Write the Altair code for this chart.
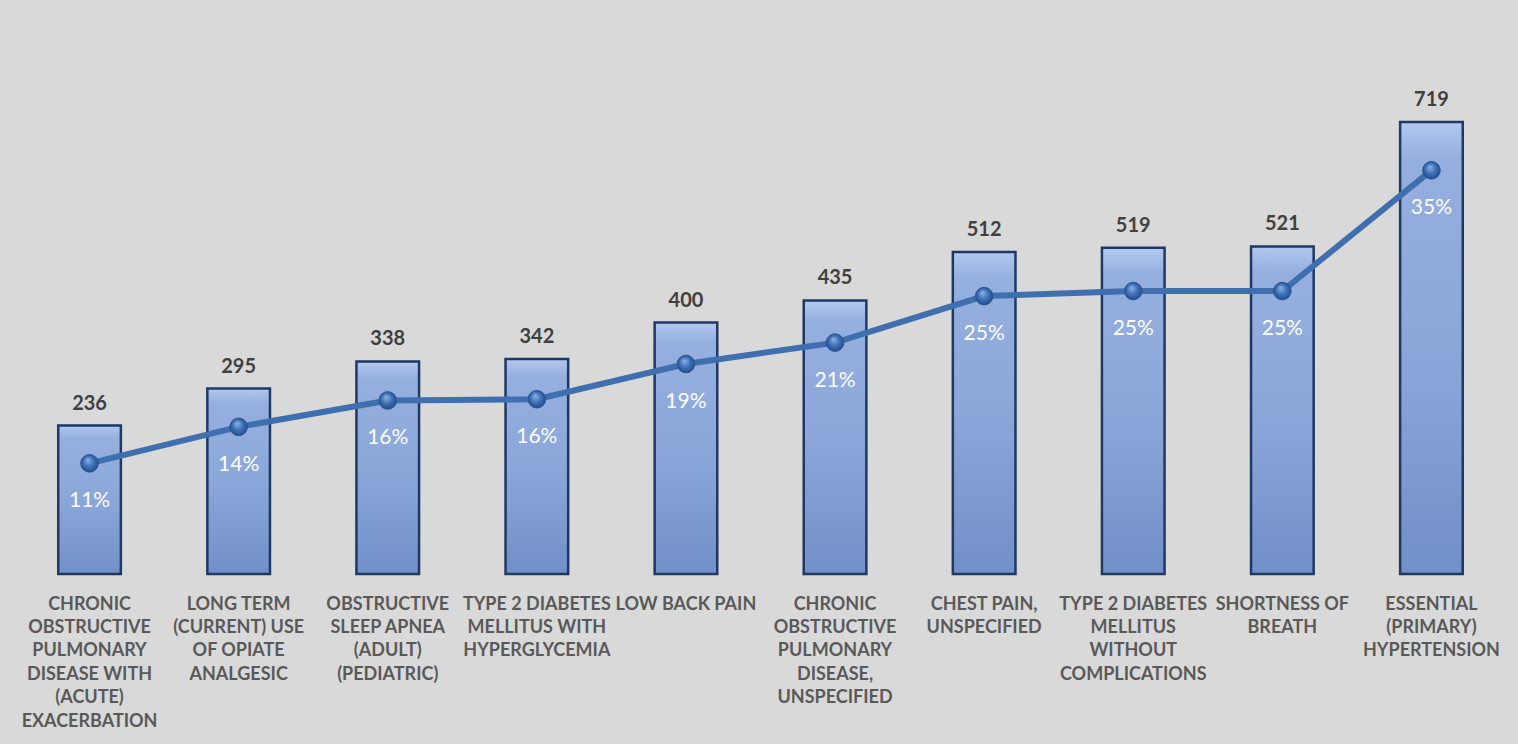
import altair as alt
import pandas as pd

categories = [
    "CHRONIC|OBSTRUCTIVE|PULMONARY|DISEASE WITH|(ACUTE)|EXACERBATION",
    "LONG TERM|(CURRENT) USE|OF OPIATE|ANALGESIC",
    "OBSTRUCTIVE|SLEEP APNEA|(ADULT)|(PEDIATRIC)",
    "TYPE 2 DIABETES|MELLITUS WITH|HYPERGLYCEMIA",
    "LOW BACK PAIN",
    "CHRONIC|OBSTRUCTIVE|PULMONARY|DISEASE,|UNSPECIFIED",
    "CHEST PAIN,|UNSPECIFIED",
    "TYPE 2 DIABETES|MELLITUS|WITHOUT|COMPLICATIONS",
    "SHORTNESS OF|BREATH",
    "ESSENTIAL|(PRIMARY)|HYPERTENSION",
]
counts = [236, 295, 338, 342, 400, 435, 512, 519, 521, 719]
shares = [0.113, 0.142, 0.163, 0.164, 0.192, 0.209, 0.246, 0.250, 0.250, 0.346]

df = pd.DataFrame({"cat": categories, "count": counts, "share": shares})

x_enc = alt.X(
    "cat:N",
    sort=categories,
    scale=alt.Scale(paddingInner=0.58, paddingOuter=0.29),
    axis=alt.Axis(
        title=None,
        labelAngle=0,
        labelExpr="split(datum.label, '|')",
        labelFont="Lato",
        labelFontWeight="bold",
        labelFontSize=18,
        labelColor="#595959",
        labelLineHeight=23.4,
        labelBaseline="top",
        labelPadding=21,
        labelLimit=300,
        ticks=False,
        tickSize=0,
        domain=False,
        grid=False,
    ),
)

y_count = alt.Y("count:Q", scale=alt.Scale(domain=[0, 800]), axis=None)
y_share = alt.Y("share:Q", scale=alt.Scale(domain=[0.025, 0.425], zero=False), axis=None)

bar_fill = alt.Gradient(
    gradient="linear",
    stops=[
        alt.GradientStop(color="#b2c8ee", offset=0),
        alt.GradientStop(color="#95afdf", offset=0.08),
        alt.GradientStop(color="#8ba7da", offset=0.5),
        alt.GradientStop(color="#7190c8", offset=1),
    ],
    x1=0, x2=0, y1=0, y2=1,
)

bars = alt.Chart(df).mark_bar(
    fill=bar_fill, stroke="#1f3864", strokeWidth=2.5
).encode(x=x_enc, y=y_count)

bar_labels = alt.Chart(df).mark_text(
    font="Lato", fontWeight="bold", fontSize=20, color="#404040",
    baseline="alphabetic", dy=-16
).encode(x=x_enc, y=y_count, text=alt.Text("count:Q"))

bar_layer = alt.layer(bars, bar_labels)

line = alt.Chart(df).mark_line(color="#3f6faf", strokeWidth=6).encode(x=x_enc, y=y_share)

point_fill = alt.Gradient(
    gradient="radial",
    stops=[
        alt.GradientStop(color="#8fb3e6", offset=0),
        alt.GradientStop(color="#3d6fb5", offset=0.55),
        alt.GradientStop(color="#1f4a85", offset=1),
    ],
    x1=0.4, y1=0.3, r1=0, x2=0.5, y2=0.5, r2=0.55,
)

points = alt.Chart(df).mark_point(
    filled=True, fill=point_fill, size=310, opacity=1, stroke="#2a5694", strokeWidth=1
).encode(x=x_enc, y=y_share)

share_labels = alt.Chart(df).mark_text(
    font="Lato", fontSize=21, color="white", baseline="middle", dy=38
).encode(x=x_enc, y=y_share, text=alt.Text("share:Q", format=".0%"))

line_layer = alt.layer(line, points, share_labels)

chart = alt.layer(bar_layer, line_layer).resolve_scale(y="independent").properties(
    width=1491,
    height=503,
    background="#d9d9d9",
    padding={"left": 15, "top": 71, "right": 12, "bottom": 170},
    autosize=alt.AutoSizeParams(type="none"),
).configure_view(stroke=None)

chart.save("out.html", embed_options={"renderer": "svg", "actions": False})
